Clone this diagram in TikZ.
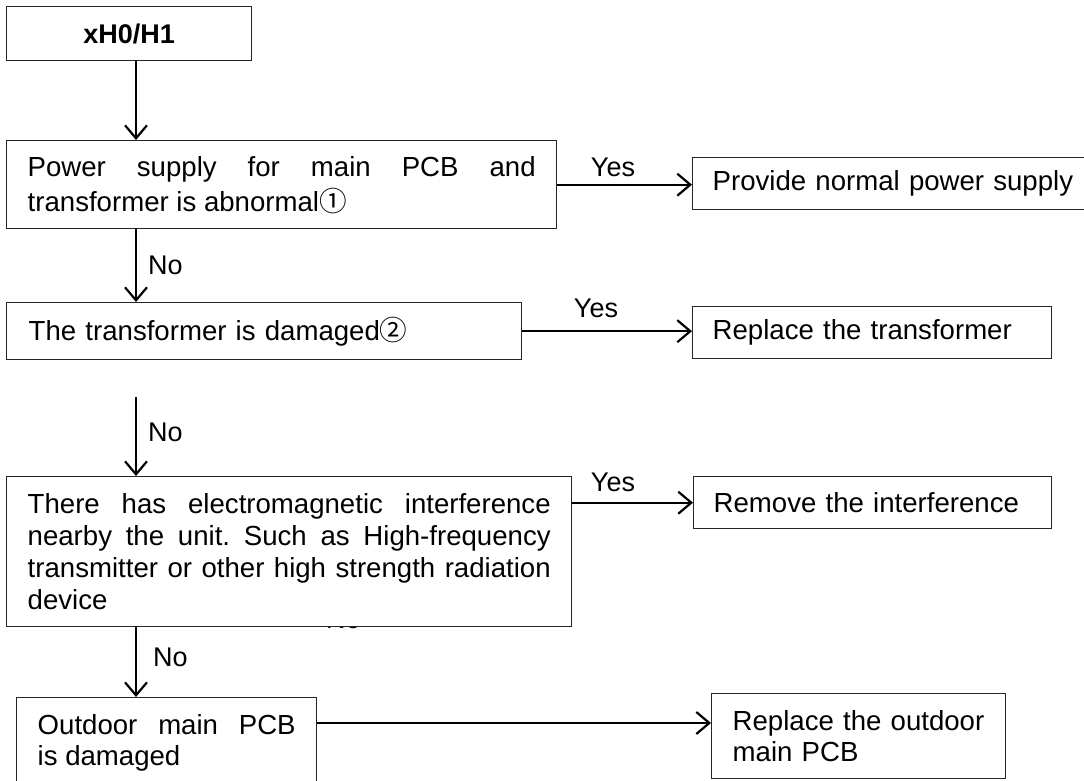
\documentclass[tikz,border=0pt]{standalone}
\usepackage{fontspec}
\setmainfont{Liberation Sans}
\newfontfamily\circfont{Noto Sans CJK SC}
\usetikzlibrary{arrows.meta}
\frenchspacing

\tikzset{
    fc box/.style={
      draw=black!85,
      line width=1.4pt,
      fill=white,
      anchor=north west,
      inner ysep=0pt,
      inner xsep=21pt,
      font=\fontsize{27.6}{33}\selectfont
    },
    fc text/.style={
      fc box,
      align=justify
    },
    fc flow/.style={
      draw=black,
      line width=2.2pt,
      -{Straight Barb[length=13pt,width=22pt]}
    },
    fc label/.style={
      font=\fontsize{27}{30}\selectfont,
      inner sep=0pt
    }
  }

\begin{document}
\begin{tikzpicture}[x=1pt,y=-1pt]
      \useasboundingbox (0,0) rectangle (1084,781);

      % left column
      \node[fc box, text width=203pt, minimum height=54pt, align=center,
        font=\fontsize{27}{33}\selectfont\bfseries] (start) at (6,6) {xH0/H1};
      \node[fc text, text width=508pt, minimum height=88pt, font=\fontsize{27.6}{35}\selectfont] (pow) at (6,140)
        {Power supply for main PCB and\linebreak transformer is abnormal{\circfont ①}};
      \node[fc box, text width=471pt, minimum height=57pt, align=left, inner xsep=22pt] (dmg) at (6,302)
        {The transformer is damaged{\circfont ②}};
      \node[fc label, anchor=base west] (hidno) at (326,628.5) {No};
      \node[fc text, text width=523pt, minimum height=150pt, font=\fontsize{27.6}{32}\selectfont] (emi) at (6,476)
        {There has electromagnetic interference\linebreak nearby the unit. Such as High-frequency\linebreak transmitter or other high strength radiation\linebreak device};
      \node[fc text, text width=258pt, minimum height=90pt, font=\fontsize{27.6}{31}\selectfont] (pcb) at (16,697)
        {Outdoor main PCB\linebreak is damaged};

      % right column
      \node[fc box, text width=361pt, inner xsep=20pt, minimum height=52pt, align=left] (supply) at (692,157)
        {Provide normal power supply};
      \node[fc box, text width=319pt, inner xsep=20pt, minimum height=52pt, align=left] (xfmr) at (692,306)
        {Replace the transformer};
      \node[fc box, text width=318pt, inner xsep=20pt, minimum height=52pt, align=left] (rmv) at (693,476)
        {Remove the interference};
      \node[fc box, text width=252pt, minimum height=85pt, align=left, font=\fontsize{27.6}{31}\selectfont] (outpcb) at (711,693)
        {Replace the outdoor\\main PCB};

      % arrows
      \coordinate (trunk) at (136,0);
      \coordinate (gap) at (136,397);
      \draw[fc flow] (trunk |- start.south) -- (trunk |- pow.north);
      \draw[fc flow] (trunk |- pow.south) -- (trunk |- dmg.north);
      \draw[fc flow] (gap) -- (gap |- emi.north);
      \draw[fc flow] (trunk |- emi.south) -- (trunk |- pcb.north);
      \draw[fc flow] (pow.east) -- (supply.west |- pow.east);
      \draw[fc flow] (dmg.east) -- (dmg.east -| xfmr.west);
      \draw[fc flow] (emi.east |- rmv.west) -- (rmv.west);
      \draw[fc flow] ([yshift=-26pt]pcb.north east) -- ([yshift=-26pt]pcb.north east -| outpcb.west);

      % labels
      \node[fc label] (yes1) at (613,167) {Yes};
      \node[fc label] (yes2) at (596,308) {Yes};
      \node[fc label] (yes3) at (613,482) {Yes};
      \node[fc label, anchor=west] (no1) at (148,265) {No};
      \node[fc label, anchor=west] (no2) at (148,432) {No};
      \node[fc label, anchor=west] (no3) at (153,657) {No};
    \end{tikzpicture}
\end{document}
